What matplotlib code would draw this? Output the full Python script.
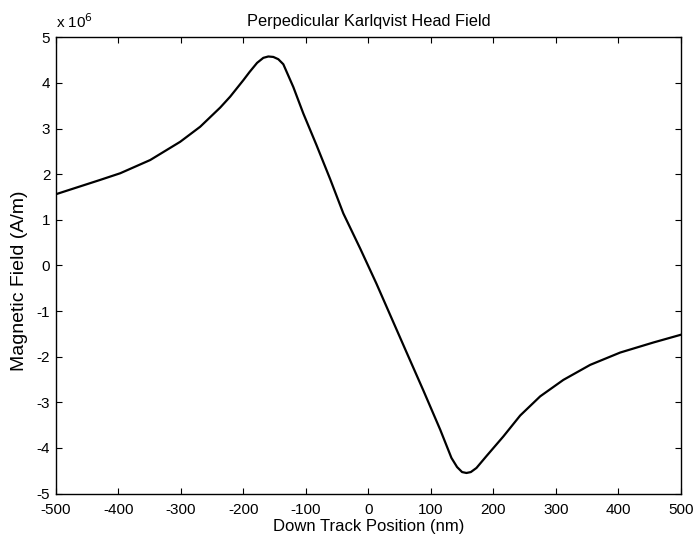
import numpy as np
import matplotlib.pyplot as plt

plt.rcParams['font.family'] = ['Liberation Sans', 'DejaVu Sans']
plt.rcParams['axes.unicode_minus'] = False

# Down track position (nm) and field (x 1e6 A/m)
pos = [-500, -430, -397, -349, -301, -269, -237, -221, -200, -190, -178, -168,
       -160, -152, -144, -136, -120, -104, -83, -61, -40, -13, 13, 37, 61, 88,
       115, 133, 142, 150, 157, 164, 173, 189, 216, 243, 275, 312, 355, 403,
       456, 500]
field = [1.56, 1.87, 2.02, 2.31, 2.71, 3.04, 3.46, 3.70, 4.06, 4.24, 4.44, 4.55,
         4.58, 4.57, 4.52, 4.41, 3.91, 3.33, 2.64, 1.89, 1.14, 0.37, -0.40,
         -1.15, -1.90, -2.74, -3.60, -4.22, -4.42, -4.53, -4.55, -4.53, -4.44,
         -4.18, -3.75, -3.29, -2.87, -2.51, -2.18, -1.91, -1.69, -1.52]
xticks = [-500, -400, -300, -200, -100, 0, 100, 200, 300, 400, 500]
yticks = [-5, -4, -3, -2, -1, 0, 1, 2, 3, 4, 5]

fig = plt.figure(figsize=(6.96, 5.37), dpi=100)
ax = fig.add_axes([0.0802, 0.081, 0.898, 0.8495])

ax.plot(pos, np.array(field) * 1e6, color='black', lw=1.6,
        solid_joinstyle='round')

ax.set_xlim(-500, 500)
ax.set_ylim(-5e6, 5e6)
ax.set_xticks(xticks)
ax.set_xticklabels([str(t) for t in xticks])
ax.set_yticks([t * 1e6 for t in yticks])
ax.set_yticklabels([str(t) for t in yticks])
ax.tick_params(direction='in', top=True, right=True, length=4, width=0.8,
               labelsize=11)
ax.tick_params(axis='x', pad=7)
ax.tick_params(axis='y', pad=4)
for s in ax.spines.values():
    s.set_linewidth(1.0)

ax.set_title('Perpedicular Karlqvist Head Field', fontsize=11.8, pad=8)
ax.set_xlabel('Down Track Position (nm)', fontsize=12, labelpad=1.5)
ax.set_ylabel('Magnetic Field (A/m)', fontsize=14, labelpad=4)
ax.yaxis.set_label_coords(-0.045, 0.466)
ax.text(0.0, 1.014, r'x 10$^{6}$', transform=ax.transAxes, fontsize=11,
        ha='left', va='bottom')

fig.savefig('out.png', dpi=100)
